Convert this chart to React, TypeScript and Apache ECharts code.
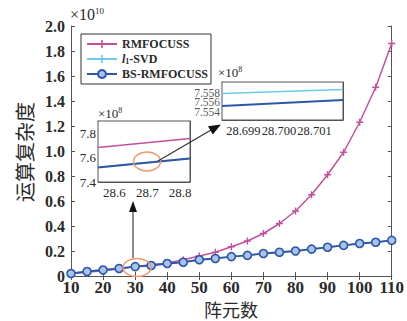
import React, { useEffect, useRef } from "react";
import * as echarts from "echarts";

// Main chart data (values in units of 1e10)
const elements = [10, 15, 20, 25, 30, 35, 40, 45, 50, 55, 60, 65, 70, 75, 80, 85, 90, 95, 100, 105, 110];
const rmfocuss = [0.02, 0.03, 0.042, 0.058, 0.077, 0.09, 0.105, 0.13, 0.16, 0.19, 0.234, 0.28, 0.34, 0.42, 0.52, 0.65, 0.81, 0.99, 1.23, 1.51, 1.86];
const l1svd = [0.02, 0.036, 0.048, 0.06, 0.075, 0.084, 0.1, 0.111, 0.13, 0.141, 0.155, 0.166, 0.18, 0.19, 0.2, 0.215, 0.23, 0.245, 0.26, 0.271, 0.285];
const bsRmfocuss = [0.02, 0.036, 0.048, 0.06, 0.075, 0.084, 0.1, 0.11, 0.13, 0.14, 0.155, 0.165, 0.18, 0.19, 0.2, 0.215, 0.23, 0.245, 0.26, 0.27, 0.285];
const yTicks = [0, 0.2, 0.4, 0.6, 0.8, 1.0, 1.2, 1.4, 1.6, 1.8, 2.0];

// Inset 1 (values in units of 1e8)
const inset1X = [28.55, 28.83];
const inset1Rm = [7.683, 7.757];
const inset1L1 = [7.521, 7.595];
const inset1Bs = [7.519, 7.593];
const inset1XTicks = [28.6, 28.7, 28.8];
const inset1YTicks = [7.4, 7.6, 7.8];

// Inset 2 (values in units of 1e8)
const inset2X = [28.6984, 28.7018];
const inset2L1 = [7.5579, 7.5588];
const inset2Bs = [7.5552, 7.5565];
const inset2XTicks = [28.699, 28.7, 28.701];
const inset2YTicks = [7.554, 7.556, 7.558];

const MAGENTA = "#c4509c";
const CYAN = "#6ccbec";
const BLUE = "#2d58a8";
const AXIS = "#555";
const TXT = "#2a2a2a";
const FONT = "Liberation Serif";
const PLUS = "path://M4,0H6V4H10V6H6V10H4V6H0V4H4Z";

const zip = (xs: number[], ys: number[]) => xs.map((x, i) => [x, ys[i]]);

export default function App() {
  const ref = useRef<HTMLDivElement>(null);
  useEffect(() => {
    if (!ref.current) return;
    const chart = echarts.init(ref.current, null, { renderer: "svg" });

    const lbl = (size: number) => ({
      fontFamily: FONT,
      fontSize: size,
      fontWeight: "bold" as const,
      color: TXT,
    });

    const mainX = (pos: "bottom" | "top", show: boolean) => ({
      type: "value",
      gridIndex: 0,
      position: pos,
      min: 10,
      max: 110,
      interval: 10,
      axisLine: { show: true, lineStyle: { color: AXIS, width: 1 } },
      axisTick: { show: true, inside: true, length: 4, lineStyle: { color: AXIS } },
      axisLabel: { show, margin: 3, ...lbl(17) },
      splitLine: { show: false },
    });
    const mainY = (pos: "left" | "right", show: boolean) => ({
      type: "value",
      gridIndex: 0,
      position: pos,
      min: 0,
      max: 2,
      interval: 0.2,
      axisLine: { show: true, lineStyle: { color: AXIS, width: 1 } },
      axisTick: { show: true, inside: true, length: 4, lineStyle: { color: AXIS } },
      axisLabel: {
        show,
        margin: 6,
        ...lbl(16),
        formatter: (v: number) => (Math.abs(v) < 1e-9 ? "0" : v.toFixed(1)),
        customValues: yTicks,
      },
      splitLine: { show: false },
    });

    const insetAxis = (
      kind: "x" | "y",
      grid: number,
      pos: string,
      min: number,
      max: number,
      ticks: number[],
      show: boolean,
      digits: number,
      size: number
    ) => ({
      type: "value",
      gridIndex: grid,
      position: pos,
      min,
      max,
      axisLine: { show: true, lineStyle: { color: AXIS, width: 1 } },
      axisTick: { show: true, inside: true, length: 3, customValues: ticks, lineStyle: { color: AXIS } },
      axisLabel: {
        show,
        margin: kind === "x" ? 4 : 2,
        customValues: ticks,
        hideOverlap: false,
        showMinLabel: true,
        showMaxLabel: true,
        fontFamily: FONT,
        fontSize: size,
        color: TXT,
        formatter: (v: number) => v.toFixed(digits),
      },
      splitLine: { show: false },
    });

    chart.setOption({
      animation: false,
      backgroundColor: "#ffffff",
      grid: [
        { left: 71, right: 13, top: 26, bottom: 45 },
        { left: 98, top: 121, width: 92, height: 61, show: true, backgroundColor: "#fff", borderColor: AXIS, borderWidth: 1, z: 5 },
        { left: 222, top: 82, width: 121, height: 38, show: true, backgroundColor: "#fff", borderColor: AXIS, borderWidth: 1, z: 5 },
      ],
      xAxis: [
        mainX("bottom", true),
        mainX("top", false),
        insetAxis("x", 1, "bottom", inset1X[0], inset1X[1], inset1XTicks, true, 1, 13),
        insetAxis("x", 1, "top", inset1X[0], inset1X[1], inset1XTicks, false, 1, 13),
        insetAxis("x", 2, "bottom", inset2X[0], inset2X[1], inset2XTicks, true, 3, 12.5),
        insetAxis("x", 2, "top", inset2X[0], inset2X[1], inset2XTicks, false, 3, 12.5),
      ],
      yAxis: [
        mainY("left", true),
        mainY("right", false),
        insetAxis("y", 1, "left", 7.4, 7.9, inset1YTicks, true, 1, 13),
        insetAxis("y", 1, "right", 7.4, 7.9, inset1YTicks, false, 1, 13),
        insetAxis("y", 2, "left", 7.5522, 7.5604, inset2YTicks, false, 3, 12),
        insetAxis("y", 2, "right", 7.5522, 7.5604, inset2YTicks, false, 3, 12),
      ],
      legend: {
        orient: "vertical",
        left: 81,
        top: 34,
        padding: [4, 3, 4, 5],
        itemGap: 3,
        itemWidth: 30,
        itemHeight: 10,
        borderColor: "#333",
        borderWidth: 1,
        backgroundColor: "#fff",
        data: ["RMFOCUSS", "l1-SVD", "BS-RMFOCUSS"],
        formatter: (name: string) => (name === "l1-SVD" ? "{i|l}{s|1}{n|-SVD}" : name),
        textStyle: {
          fontFamily: FONT,
          fontSize: 12,
          fontWeight: "bold",
          color: TXT,
          lineHeight: 12,
          rich: {
            i: { fontFamily: FONT, fontSize: 12, fontStyle: "italic", fontWeight: "bold", color: TXT },
            s: { fontFamily: FONT, fontSize: 8, fontWeight: "bold", color: TXT, verticalAlign: "bottom", padding: [5, 0, 0, 0] },
            n: { fontFamily: FONT, fontSize: 12, fontWeight: "bold", color: TXT },
          },
        },
      },
      series: [
        {
          name: "RMFOCUSS",
          type: "line",
          xAxisIndex: 0,
          yAxisIndex: 0,
          data: zip(elements, rmfocuss),
          symbol: PLUS,
          symbolSize: 7,
          lineStyle: { color: MAGENTA, width: 1.5 },
          itemStyle: { color: MAGENTA },
          z: 2,
        },
        {
          name: "l1-SVD",
          type: "line",
          xAxisIndex: 0,
          yAxisIndex: 0,
          data: zip(elements, l1svd),
          symbol: PLUS,
          symbolSize: 7,
          lineStyle: { color: CYAN, width: 1.5 },
          itemStyle: { color: CYAN },
          z: 3,
        },
        {
          name: "BS-RMFOCUSS",
          type: "line",
          xAxisIndex: 0,
          yAxisIndex: 0,
          data: zip(elements, bsRmfocuss),
          symbol: "circle",
          symbolSize: 8,
          showAllSymbol: true,
          lineStyle: { color: BLUE, width: 2 },
          itemStyle: { color: "#a9c3ec", borderColor: BLUE, borderWidth: 1.6 },
          z: 4,
        },
        {
          type: "line",
          xAxisIndex: 2,
          yAxisIndex: 2,
          data: zip(inset1X, inset1Rm),
          symbol: "none",
          lineStyle: { color: MAGENTA, width: 1.5 },
          z: 6,
        },
        {
          type: "line",
          xAxisIndex: 2,
          yAxisIndex: 2,
          data: zip(inset1X, inset1L1),
          symbol: "none",
          lineStyle: { color: CYAN, width: 1.5 },
          z: 6,
        },
        {
          type: "line",
          xAxisIndex: 2,
          yAxisIndex: 2,
          data: zip(inset1X, inset1Bs),
          symbol: "none",
          lineStyle: { color: BLUE, width: 2 },
          z: 6,
        },
        {
          type: "line",
          xAxisIndex: 4,
          yAxisIndex: 4,
          data: zip(inset2X, inset2L1),
          symbol: "none",
          lineStyle: { color: CYAN, width: 1.5 },
          z: 6,
        },
        {
          type: "line",
          xAxisIndex: 4,
          yAxisIndex: 4,
          data: zip(inset2X, inset2Bs),
          symbol: "none",
          lineStyle: { color: BLUE, width: 2 },
          z: 6,
        },
        {
          // tick labels of inset 2's y axis (tightly packed, as in the reference)
          type: "scatter",
          xAxisIndex: 4,
          yAxisIndex: 4,
          data: inset2YTicks.map((t) => [inset2X[0], t]),
          symbolSize: 0,
          silent: true,
          clip: false,
          z: 7,
          label: {
            show: true,
            position: "left",
            distance: 2,
            fontFamily: FONT,
            fontSize: 11.5,
            lineHeight: 9,
            color: TXT,
            formatter: (p: any) => (p.value[1] as number).toFixed(3),
          },
        },
      ],
      graphic: [
        {
          type: "text",
          left: 70,
          top: 6,
          style: {
            text: "×10{s|10}",
            fontFamily: FONT,
            fontSize: 16,
            fill: TXT,
            rich: { s: { fontFamily: FONT, fontSize: 9, fill: TXT, verticalAlign: "top", padding: [0, 0, 8, 0] } },
          },
        },
        {
          type: "text",
          left: 98,
          top: 106,
          z: 20,
          style: {
            text: "×10{s|8}",
            fontFamily: FONT,
            fontSize: 13,
            fill: TXT,
            rich: { s: { fontFamily: FONT, fontSize: 8, fill: TXT, verticalAlign: "top", padding: [0, 0, 6, 0] } },
          },
        },
        {
          type: "text",
          left: 218,
          top: 65,
          z: 20,
          style: {
            text: "×10{s|8}",
            fontFamily: FONT,
            fontSize: 13,
            fill: TXT,
            rich: { s: { fontFamily: FONT, fontSize: 8, fill: TXT, verticalAlign: "top", padding: [0, 0, 6, 0] } },
          },
        },
        {
          type: "text",
          x: 24,
          y: 152,
          rotation: Math.PI / 2,
          style: {
            text: "运算复杂度",
            fontFamily: "Noto Sans CJK SC",
            fontSize: 20,
            fill: TXT,
            align: "center",
            verticalAlign: "middle",
          },
        },
        {
          type: "text",
          x: 231,
          y: 309,
          style: {
            text: "阵元数",
            fontFamily: "Noto Sans CJK SC",
            fontSize: 18,
            fill: TXT,
            align: "center",
            verticalAlign: "middle",
          },
        },
        // annotation ellipses and arrows
        {
          type: "ellipse",
          z: 30,
          shape: { cx: 137, cy: 267.5, rx: 14, ry: 9 },
          style: { fill: "none", stroke: "#ef9a70", lineWidth: 1.5 },
        },
        {
          type: "ellipse",
          z: 30,
          shape: { cx: 147, cy: 161.5, rx: 13.5, ry: 9.5 },
          style: { fill: "none", stroke: "#ef9a70", lineWidth: 1.5 },
        },
        {
          type: "line",
          z: 30,
          shape: { x1: 133, y1: 258, x2: 133, y2: 210 },
          style: { stroke: "#666", lineWidth: 1.5 },
        },
        {
          type: "polygon",
          z: 30,
          shape: { points: [[133, 201], [129, 212], [137, 212]] },
          style: { fill: "#111" },
        },
        {
          type: "line",
          z: 30,
          shape: { x1: 158, y1: 161, x2: 211, y2: 130 },
          style: { stroke: "#333", lineWidth: 1.2 },
        },
        {
          type: "polygon",
          z: 30,
          shape: { points: [[221, 124.5], [212.8, 134.6], [208, 126.2]] },
          style: { fill: "#111" },
        },
      ],
    });
    return () => chart.dispose();
  }, []);
  return <div ref={ref} style={{ position: "fixed", left: 0, top: 0, width: 407, height: 321 }} />;
}
